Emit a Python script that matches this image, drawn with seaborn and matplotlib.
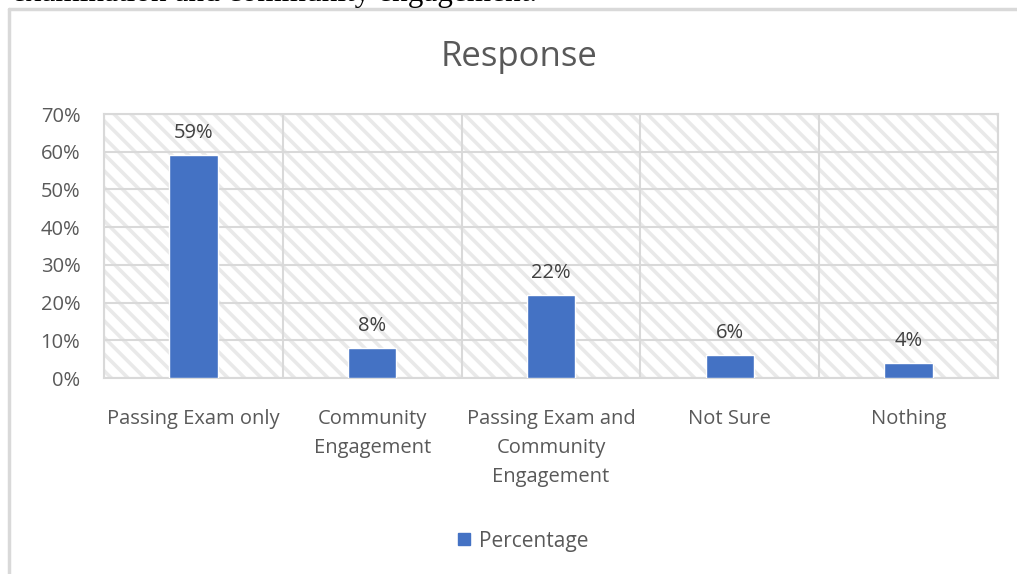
import numpy as np
import pandas as pd
import seaborn as sns
import matplotlib.pyplot as plt
from matplotlib.patches import Rectangle
from matplotlib.lines import Line2D

# dados do gráfico
categorias = ["Passing Exam only", "Community\nEngagement",
              "Passing Exam and\nCommunity\nEngagement", "Not Sure", "Nothing"]
percentuais = [59, 8, 22, 6, 4]
ticks_y = [0, 10, 20, 30, 40, 50, 60, 70]

df = pd.DataFrame({"Categoria": categorias, "Percentage": percentuais})

sns.set_theme(style="white")
plt.rcParams['font.family'] = ['Open Sans', 'DejaVu Sans']
plt.rcParams['hatch.linewidth'] = 2.6

cinza_texto = "#595959"
cinza_grade = "#d9d9d9"
azul = "#4472C4"

fig = plt.figure(figsize=(10.17, 5.74), dpi=100)
ax = fig.add_axes([104 / 1017, 1 - 378 / 574, (998 - 104) / 1017, (378 - 114) / 574])

# fundo hachurado
ax.add_patch(Rectangle((0, 0), 1, 1, transform=ax.transAxes, facecolor="white",
                       edgecolor="#e9e9e9", hatch="\\\\", linewidth=0, zorder=0))

sns.barplot(data=df, x="Categoria", y="Percentage", color=azul, width=0.27,
            saturation=1, ax=ax, zorder=3)

ax.set_xlim(-0.5, len(categorias) - 0.5)
ax.set_ylim(0, 70)
ax.set_yticks(ticks_y)
ax.set_yticklabels([f"{v}%" for v in ticks_y])
ax.set_xticks(range(len(categorias)))
ax.set_xticklabels(categorias, linespacing=1.6)
for v in ticks_y:
    ax.axhline(v, color=cinza_grade, lw=1.5, zorder=1)
for i in range(len(categorias) + 1):
    ax.axvline(i - 0.5, color=cinza_grade, lw=1.5, zorder=1)

for s in ax.spines.values():
    s.set_color(cinza_grade)
    s.set_linewidth(1.5)

ax.tick_params(axis="both", length=0, labelsize=14.5, colors=cinza_texto)
ax.tick_params(axis="x", pad=22)
ax.tick_params(axis="y", pad=17)
ax.set_xlabel("")
ax.set_ylabel("")

# rótulos dos valores
for i, v in enumerate(percentuais):
    ax.text(i, v + 3.2, f"{v}%", ha="center", va="bottom", fontsize=14.5,
            color="#404040", zorder=4)

fig.text(519 / 1017, 1 - 57 / 574, "Response", ha="center", va="center",
         fontsize=25, color=cinza_texto)

# legenda
handle = Line2D([], [], marker="s", linestyle="none", markersize=9,
                markerfacecolor=azul, markeredgecolor=azul)
fig.legend([handle], ["Percentage"], loc="center", bbox_to_anchor=(522 / 1017, 1 - 541 / 574),
           frameon=False, fontsize=15, labelcolor=cinza_texto, handletextpad=0.3,
           handlelength=0.8)

# moldura externa e texto do documento cortado
fig.add_artist(Line2D([9 / 1017, 9 / 1017], [0, 1 - 9 / 574], transform=fig.transFigure,
                      color=cinza_grade, lw=2.5))
fig.add_artist(Line2D([9 / 1017, 1], [1 - 9 / 574, 1 - 9 / 574], transform=fig.transFigure,
                      color=cinza_grade, lw=2.5))
fig.text(12 / 1017, 1 - 0.5 / 574, "examination and community engagement.", ha="left",
         va="baseline", fontsize=22.5, family=["Liberation Serif"], color="black")

fig.savefig("out.png", dpi=100)
